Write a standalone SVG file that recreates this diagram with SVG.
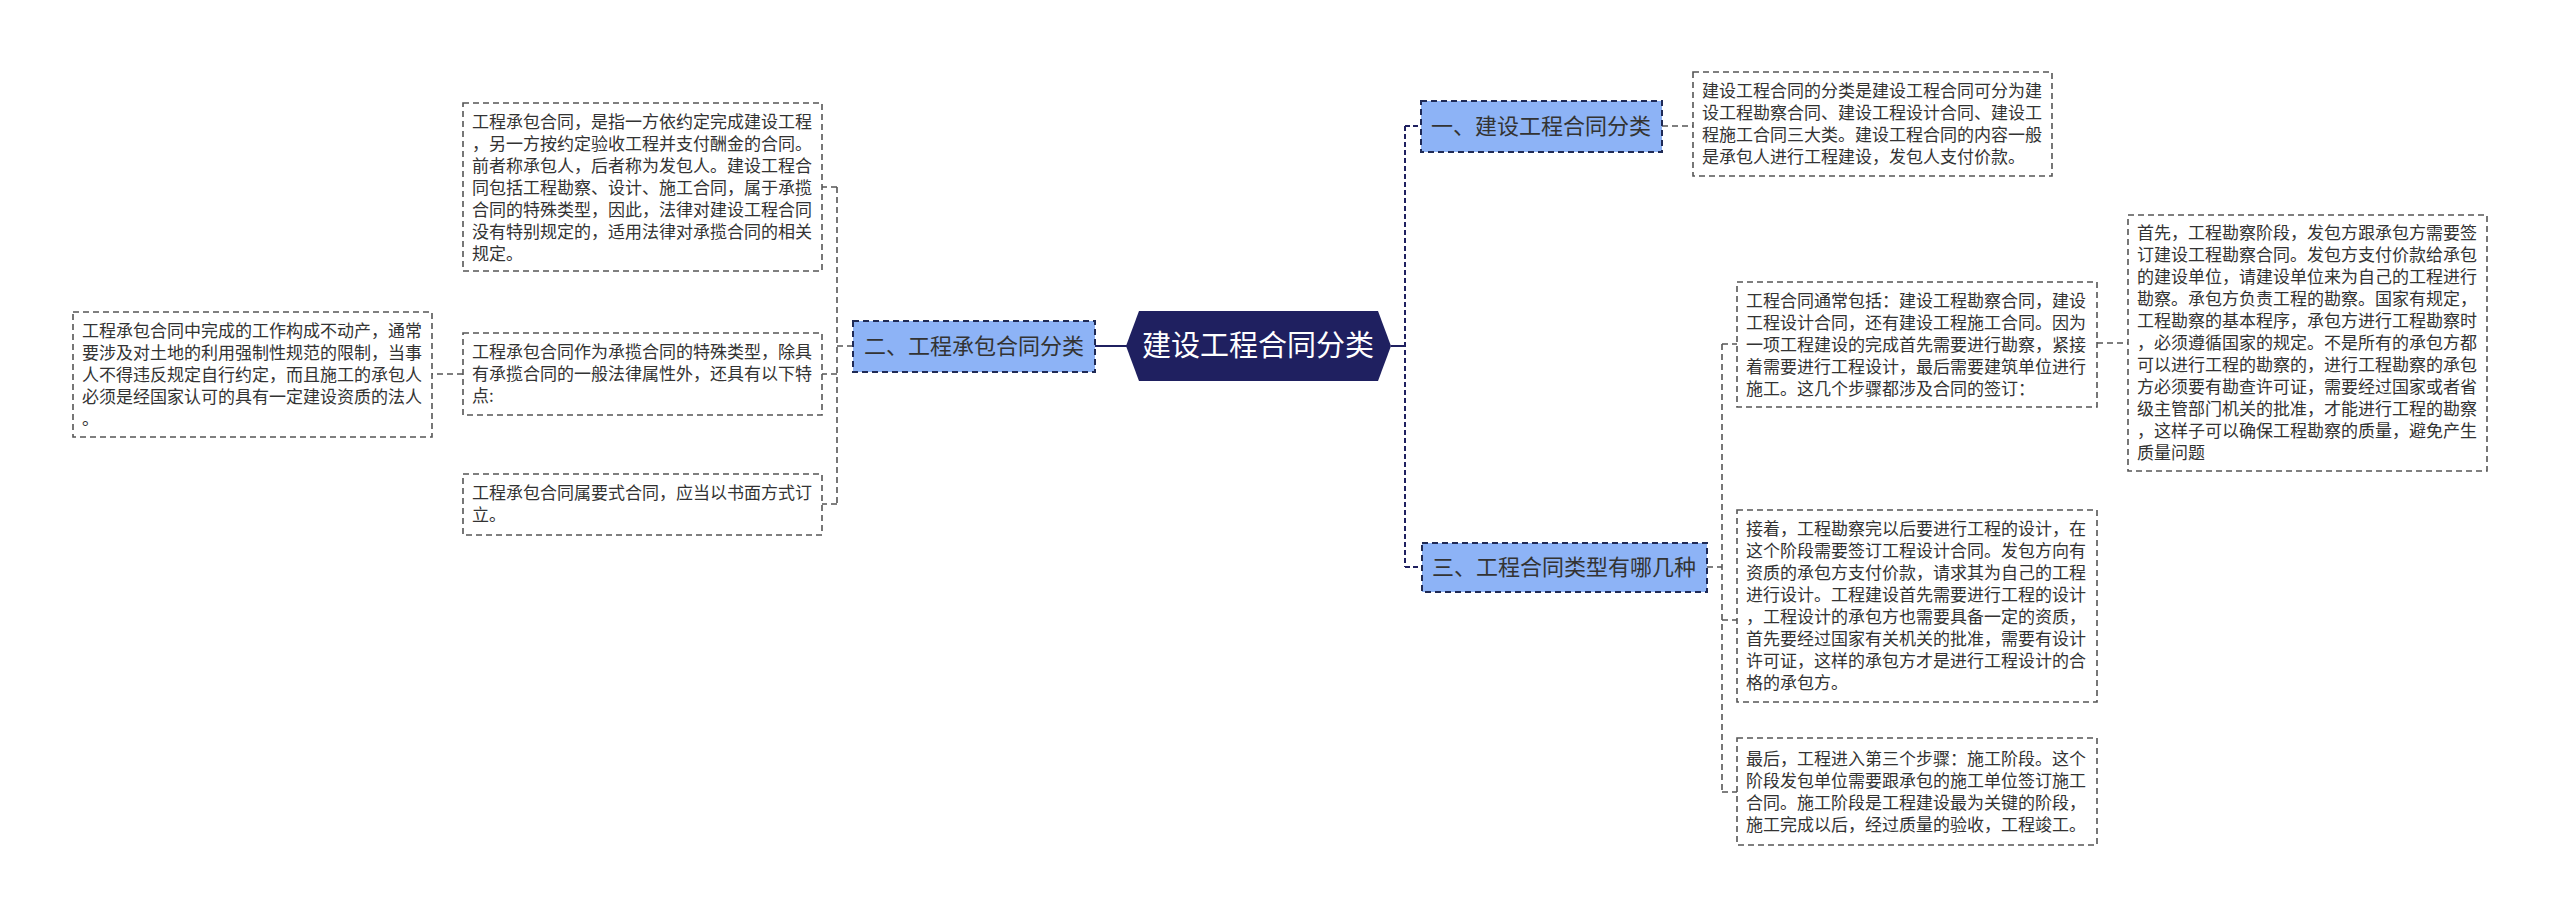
<svg xmlns="http://www.w3.org/2000/svg" width="2560" height="917" viewBox="0 0 2560 917">
<style>
.bg{fill:#ffffff}
.root{fill:#1f2060}
.roott{fill:#ffffff;font-family:"Noto Sans CJK SC","Noto Sans",sans-serif;font-size:29px}
.topic{fill:#8db3f6;stroke:#1f2a55;stroke-width:2;stroke-dasharray:6 4}
.topict{fill:#333333;font-family:"Noto Sans CJK SC","Noto Sans",sans-serif;font-size:22px}
.box{fill:#ffffff;stroke:#555555;stroke-width:1.6;stroke-dasharray:6 4}
.boxt{fill:#333333;font-family:"Noto Sans CJK SC","Noto Sans",sans-serif;font-size:17px}
.c{fill:none;stroke:#555555;stroke-width:1.6;stroke-dasharray:6 4}
.cm{fill:none;stroke:#1f2060;stroke-width:2;stroke-dasharray:5 3}
.cs{fill:none;stroke:#1f2060;stroke-width:2}
</style>
<rect class="bg" x="0" y="0" width="2560" height="917"/>
<g id="connectors">
<path class="cs" d="M1127 346 L1095 346"/>
<path class="cs" d="M1391 346 L1405 346"/>
<path class="cm" d="M1405 126 L1405 567"/>
<path class="cm" d="M1405 126 L1420 126"/>
<path class="cm" d="M1405 567 L1420 567"/>
<path class="c" d="M853 346 L837 346"/>
<path class="c" d="M837 187 L837 504"/>
<path class="c" d="M837 187 L822 187"/>
<path class="c" d="M837 374 L822 374"/>
<path class="c" d="M837 504 L822 504"/>
<path class="c" d="M463 374 L432 374"/>
<path class="c" d="M1662 126 L1693 126"/>
<path class="c" d="M1707 567 L1722 567"/>
<path class="c" d="M1722 344 L1722 792"/>
<path class="c" d="M1722 344 L1737 344"/>
<path class="c" d="M1722 620 L1737 620"/>
<path class="c" d="M1722 792 L1737 792"/>
<path class="c" d="M2097 343 L2128 343"/>
</g>
<g id="root">
<polygon class="root" points="1126,346 1139,311 1378,311 1391,346 1378,381 1139,381"/>
<text class="roott" x="1258" y="356" text-anchor="middle">建设工程合同分类</text>
</g>
<g id="topic1">
<rect class="topic" x="1421" y="101" width="241" height="51"/>
<text class="topict" x="1541" y="134" text-anchor="middle">一、建设工程合同分类</text>
</g>
<g id="topic2">
<rect class="topic" x="853" y="321" width="242" height="51"/>
<text class="topict" x="974" y="354" text-anchor="middle">二、工程承包合同分类</text>
</g>
<g id="topic3">
<rect class="topic" x="1422" y="543" width="285" height="49"/>
<text class="topict" x="1564" y="575" text-anchor="middle">三、工程合同类型有哪几种</text>
</g>
<g id="box1">
<rect class="box" x="1693" y="72" width="359" height="104"/>
<text class="boxt"><tspan x="1702" y="97">建设工程合同的分类是建设工程合同可分为建</tspan><tspan x="1702" y="119">设工程勘察合同、建设工程设计合同、建设工</tspan><tspan x="1702" y="141">程施工合同三大类。建设工程合同的内容一般</tspan><tspan x="1702" y="163">是承包人进行工程建设，发包人支付价款。</tspan></text>
</g>
<g id="boxA">
<rect class="box" x="463" y="103" width="359" height="168"/>
<text class="boxt"><tspan x="472" y="128">工程承包合同，是指一方依约定完成建设工程</tspan><tspan x="472" y="150">，另一方按约定验收工程并支付酬金的合同。</tspan><tspan x="472" y="172">前者称承包人，后者称为发包人。建设工程合</tspan><tspan x="472" y="194">同包括工程勘察、设计、施工合同，属于承揽</tspan><tspan x="472" y="216">合同的特殊类型，因此，法律对建设工程合同</tspan><tspan x="472" y="238">没有特别规定的，适用法律对承揽合同的相关</tspan><tspan x="472" y="260">规定。</tspan></text>
</g>
<g id="boxB">
<rect class="box" x="463" y="333" width="359" height="82"/>
<text class="boxt"><tspan x="472" y="358">工程承包合同作为承揽合同的特殊类型，除具</tspan><tspan x="472" y="380">有承揽合同的一般法律属性外，还具有以下特</tspan><tspan x="472" y="402">点:</tspan></text>
</g>
<g id="boxC">
<rect class="box" x="463" y="474" width="359" height="61"/>
<text class="boxt"><tspan x="472" y="499">工程承包合同属要式合同，应当以书面方式订</tspan><tspan x="472" y="521">立。</tspan></text>
</g>
<g id="boxD">
<rect class="box" x="73" y="312" width="359" height="125"/>
<text class="boxt"><tspan x="82" y="337">工程承包合同中完成的工作构成不动产，通常</tspan><tspan x="82" y="359">要涉及对土地的利用强制性规范的限制，当事</tspan><tspan x="82" y="381">人不得违反规定自行约定，而且施工的承包人</tspan><tspan x="82" y="403">必须是经国家认可的具有一定建设资质的法人</tspan><tspan x="82" y="425">。</tspan></text>
</g>
<g id="boxE">
<rect class="box" x="1737" y="282" width="360" height="125"/>
<text class="boxt"><tspan x="1746" y="307">工程合同通常包括：建设工程勘察合同，建设</tspan><tspan x="1746" y="329">工程设计合同，还有建设工程施工合同。因为</tspan><tspan x="1746" y="351">一项工程建设的完成首先需要进行勘察，紧接</tspan><tspan x="1746" y="373">着需要进行工程设计，最后需要建筑单位进行</tspan><tspan x="1746" y="395">施工。这几个步骤都涉及合同的签订：</tspan></text>
</g>
<g id="boxF">
<rect class="box" x="2128" y="215" width="359" height="256"/>
<text class="boxt"><tspan x="2137" y="239">首先，工程勘察阶段，发包方跟承包方需要签</tspan><tspan x="2137" y="261">订建设工程勘察合同。发包方支付价款给承包</tspan><tspan x="2137" y="283">的建设单位，请建设单位来为自己的工程进行</tspan><tspan x="2137" y="305">勘察。承包方负责工程的勘察。国家有规定，</tspan><tspan x="2137" y="327">工程勘察的基本程序，承包方进行工程勘察时</tspan><tspan x="2137" y="349">，必须遵循国家的规定。不是所有的承包方都</tspan><tspan x="2137" y="371">可以进行工程的勘察的，进行工程勘察的承包</tspan><tspan x="2137" y="393">方必须要有勘查许可证，需要经过国家或者省</tspan><tspan x="2137" y="415">级主管部门机关的批准，才能进行工程的勘察</tspan><tspan x="2137" y="437">，这样子可以确保工程勘察的质量，避免产生</tspan><tspan x="2137" y="459">质量问题</tspan></text>
</g>
<g id="boxG">
<rect class="box" x="1737" y="510" width="360" height="192"/>
<text class="boxt"><tspan x="1746" y="535">接着，工程勘察完以后要进行工程的设计，在</tspan><tspan x="1746" y="557">这个阶段需要签订工程设计合同。发包方向有</tspan><tspan x="1746" y="579">资质的承包方支付价款，请求其为自己的工程</tspan><tspan x="1746" y="601">进行设计。工程建设首先需要进行工程的设计</tspan><tspan x="1746" y="623">，工程设计的承包方也需要具备一定的资质，</tspan><tspan x="1746" y="645">首先要经过国家有关机关的批准，需要有设计</tspan><tspan x="1746" y="667">许可证，这样的承包方才是进行工程设计的合</tspan><tspan x="1746" y="689">格的承包方。</tspan></text>
</g>
<g id="boxH">
<rect class="box" x="1737" y="738" width="360" height="107"/>
<text class="boxt"><tspan x="1746" y="764.5">最后，工程进入第三个步骤：施工阶段。这个</tspan><tspan x="1746" y="786.5">阶段发包单位需要跟承包的施工单位签订施工</tspan><tspan x="1746" y="808.5">合同。施工阶段是工程建设最为关键的阶段，</tspan><tspan x="1746" y="830.5">施工完成以后，经过质量的验收，工程竣工。</tspan></text>
</g>
</svg>
